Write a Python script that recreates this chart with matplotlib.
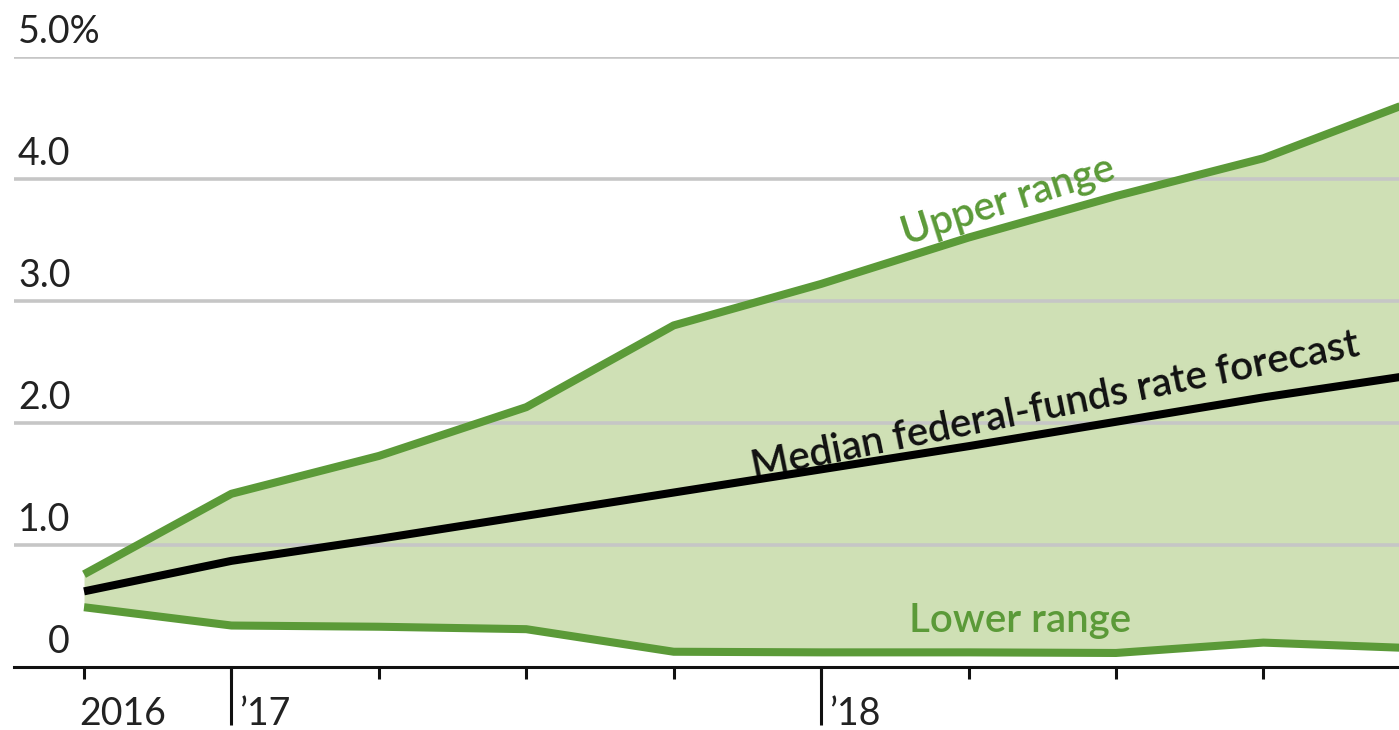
import matplotlib
matplotlib.use("Agg")
import matplotlib.pyplot as plt
from matplotlib import transforms

# Fed projections: quarterly steps from late 2016 onward (percent)
quarters = [0, 1, 2, 3, 4, 5, 6, 7, 8, 9]
upper = [0.76, 1.42, 1.73, 2.13, 2.80, 3.14, 3.52, 3.86, 4.17, 4.63]
median = [0.62, 0.87, 1.05, 1.24, 1.43, 1.62, 1.81, 2.01, 2.21, 2.39]
lower = [0.49, 0.34, 0.33, 0.31, 0.125, 0.12, 0.12, 0.115, 0.20, 0.155]

y_ticks = [0, 1, 2, 3, 4, 5]
y_tick_labels = ["0", "1.0", "2.0", "3.0", "4.0", "5.0%"]
x_ticks = [0, 1, 2, 3, 4, 5, 6, 7, 8]
year_positions = [0, 1, 5]
year_labels = ["2016", "\u201917", "\u201918"]

GREEN = "#5b9a38"
FILL = "#cfe0b5"
GRID = "#c6c6c6"
FONT = ["Lato", "DejaVu Sans"]

W, H = 1399, 730
fig = plt.figure(figsize=(W / 100, H / 100), dpi=100)
ax = fig.add_axes([14 / W, 63 / H, 1385 / W, 610 / H])

ax.fill_between(quarters, lower, upper, color=FILL, lw=0, zorder=1)
for v in y_ticks[1:]:
    ax.axhline(v, color=GRID, lw=2.6, zorder=2)
ax.plot(quarters, upper, color=GREEN, lw=5.8, solid_joinstyle="round",
        solid_capstyle="butt", zorder=3)
ax.plot(quarters, lower, color=GREEN, lw=5.8, solid_joinstyle="round",
        solid_capstyle="butt", zorder=3)
ax.plot(quarters, median, color="black", lw=5.8, solid_joinstyle="round",
        solid_capstyle="butt", zorder=4)

ax.set_xlim(-0.475, 8.92)
ax.set_ylim(0, 5)

for side in ["left", "right", "top"]:
    ax.spines[side].set_visible(False)
ax.spines["bottom"].set_linewidth(2.2)
ax.spines["bottom"].set_color("#111111")
ax.spines["bottom"].set_zorder(5)

ax.set_yticks([])
ax.xaxis.remove_overlapping_locs = False
ax.set_xticks(x_ticks)
ax.set_xticks(year_positions[1:], minor=True)
ax.tick_params(axis="x", which="major", length=8.6, width=2.2,
               color="#111111", labelbottom=False)
ax.tick_params(axis="x", which="minor", length=42, width=2.2,
               color="#111111", labelbottom=False)

# y-axis labels sit just above each gridline
ytrans = transforms.offset_copy(ax.get_yaxis_transform(), fig=fig,
                                x=0, y=14, units="dots")
for v, lab in zip(y_ticks, y_tick_labels):
    if lab == "0":
        ax.text(0, v, lab, transform=transforms.offset_copy(
            ytrans, fig=fig, x=56, y=0, units="dots"),
            ha="right", va="baseline", fontsize=27, color="#222222",
            family=FONT, clip_on=False)
    else:
        ax.text(0, v, lab, transform=transforms.offset_copy(
            ytrans, fig=fig, x=4, y=0, units="dots"),
            ha="left", va="baseline", fontsize=27, color="#222222",
            family=FONT, clip_on=False)

# year labels under the axis
for pos, lab in zip(year_positions, year_labels):
    dx = -5 if pos == 0 else 8
    xt = transforms.offset_copy(ax.get_xaxis_transform(), fig=fig,
                                x=dx, y=-58, units="dots")
    ax.text(pos, 0, lab, transform=xt, ha="left", va="baseline",
            fontsize=27, color="#222222", family=FONT, clip_on=False)

# series annotations
ax.text(6.27, 3.82, "Upper range", rotation=17.5, rotation_mode="anchor",
        ha="center", va="center", fontsize=29, color=GREEN,
        family=FONT, fontweight="semibold")
ax.text(6.59, 2.14, "Median federal-funds rate forecast", rotation=11.5,
        rotation_mode="anchor", ha="center", va="center", fontsize=29,
        color="#111111", family=FONT, fontweight="semibold")
ax.text(6.35, 0.38, "Lower range", ha="center", va="center", fontsize=29,
        color=GREEN, family=FONT, fontweight="semibold")

fig.savefig("out.png", dpi=100)
